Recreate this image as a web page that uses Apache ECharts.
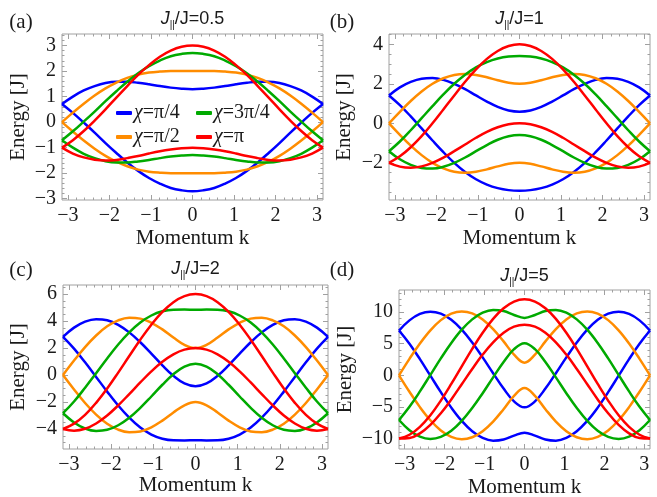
<!DOCTYPE html>
<html><head><meta charset="utf-8">
<script src="https://cdn.jsdelivr.net/npm/echarts@6/dist/echarts.min.js"></script>
<style>html,body{margin:0;padding:0;background:#fff}#c{width:657px;height:497px}</style>
</head><body><div id="c"></div>
<script>
// ---------- DATA ----------
const momentum = [-3.1416,-2.8798,-2.6180,-2.3562,-2.0944,-1.8326,-1.5708,-1.3090,-1.0472,-0.7854,-0.5236,-0.2618,0,0.2618,0.5236,0.7854,1.0472,1.3090,1.5708,1.8326,2.0944,2.3562,2.6180,2.8798,3.1416];
const xTicks = [-3,-2,-1,0,1,2,3];
const aYTicks = [-3,-2,-1,0,1,2,3];
const bYTicks = [-2,0,2,4];
const cYTicks = [-4,-2,0,2,4,6];
const dYTicks = [-10,-5,0,5,10];
const ratioLabels = ['0.5','1','2','5'];
const panelLetters = ['(a)','(b)','(c)','(d)'];
const chiNames = ['χ=π/4','χ=π/2','χ=3π/4','χ=π'];

// (a) J||/J = 0.5
const aBlueUp   = [0.71,1.00,1.24,1.41,1.53,1.58,1.58,1.54,1.48,1.41,1.35,1.31,1.29,1.31,1.35,1.41,1.48,1.54,1.58,1.58,1.53,1.41,1.24,1.00,0.71];
const aBlueLo   = [0.71,0.36,-0.02,-0.41,-0.82,-1.21,-1.58,-1.91,-2.19,-2.41,-2.58,-2.67,-2.71,-2.67,-2.58,-2.41,-2.19,-1.91,-1.58,-1.21,-0.82,-0.41,-0.02,0.36,0.71];
const aOrangeUp = [0,0.37,0.72,1.04,1.32,1.55,1.73,1.86,1.94,1.98,2.00,2.00,2.00,2.00,2.00,1.98,1.94,1.86,1.73,1.55,1.32,1.04,0.72,0.37,0];
const aOrangeLo = [0,-0.37,-0.72,-1.04,-1.32,-1.55,-1.73,-1.86,-1.94,-1.98,-2.00,-2.00,-2.00,-2.00,-2.00,-1.98,-1.94,-1.86,-1.73,-1.55,-1.32,-1.04,-0.72,-0.37,0];
const aGreenUp  = [-0.71,-0.36,0.02,0.41,0.82,1.21,1.58,1.91,2.19,2.41,2.58,2.67,2.71,2.67,2.58,2.41,2.19,1.91,1.58,1.21,0.82,0.41,0.02,-0.36,-0.71];
const aGreenLo  = [-0.71,-1.00,-1.24,-1.41,-1.53,-1.58,-1.58,-1.54,-1.48,-1.41,-1.35,-1.31,-1.29,-1.31,-1.35,-1.41,-1.48,-1.54,-1.58,-1.58,-1.53,-1.41,-1.24,-1.00,-0.71];
const aRedUp    = [-1.00,-0.71,-0.35,0.06,0.50,0.96,1.41,1.85,2.23,2.56,2.80,2.95,3.00,2.95,2.80,2.56,2.23,1.85,1.41,0.96,0.50,0.06,-0.35,-0.71,-1.00];
const aRedLo    = [-1.00,-1.23,-1.38,-1.47,-1.50,-1.48,-1.41,-1.33,-1.23,-1.14,-1.07,-1.02,-1.00,-1.02,-1.07,-1.14,-1.23,-1.33,-1.41,-1.48,-1.50,-1.47,-1.38,-1.23,-1.00];

// (b) J||/J = 1
const bBlueUp   = [1.41,1.82,2.10,2.26,2.29,2.20,2.00,1.73,1.41,1.10,0.83,0.65,0.59,0.65,0.83,1.10,1.41,1.73,2.00,2.20,2.29,2.26,2.10,1.82,1.41];
const bBlueLo   = [1.41,0.92,0.35,-0.26,-0.87,-1.46,-2.00,-2.46,-2.83,-3.10,-3.28,-3.38,-3.41,-3.38,-3.28,-3.10,-2.83,-2.46,-2.00,-1.46,-0.87,-0.26,0.35,0.92,1.41];
const bOrangeUp = [0,0.58,1.13,1.61,2.00,2.28,2.45,2.50,2.45,2.33,2.18,2.05,2.00,2.05,2.18,2.33,2.45,2.50,2.45,2.28,2.00,1.61,1.13,0.58,0];
const bOrangeLo = [0,-0.58,-1.13,-1.61,-2.00,-2.28,-2.45,-2.50,-2.45,-2.33,-2.18,-2.05,-2.00,-2.05,-2.18,-2.33,-2.45,-2.50,-2.45,-2.28,-2.00,-1.61,-1.13,-0.58,0];
const bGreenUp  = [-1.41,-0.92,-0.35,0.26,0.87,1.46,2.00,2.46,2.83,3.10,3.28,3.38,3.41,3.38,3.28,3.10,2.83,2.46,2.00,1.46,0.87,0.26,-0.35,-0.92,-1.41];
const bGreenLo  = [-1.41,-1.82,-2.10,-2.26,-2.29,-2.20,-2.00,-1.73,-1.41,-1.10,-0.83,-0.65,-0.59,-0.65,-0.83,-1.10,-1.41,-1.73,-2.00,-2.20,-2.29,-2.26,-2.10,-1.82,-1.41];
const bRedUp    = [-2.00,-1.67,-1.21,-0.65,0.00,0.70,1.41,2.10,2.73,3.26,3.66,3.91,4.00,3.91,3.66,3.26,2.73,2.10,1.41,0.70,0.00,-0.65,-1.21,-1.67,-2.00];
const bRedLo    = [-2.00,-2.19,-2.25,-2.18,-2.00,-1.74,-1.41,-1.07,-0.73,-0.43,-0.20,-0.05,0.00,-0.05,-0.20,-0.43,-0.73,-1.07,-1.41,-1.74,-2.00,-2.18,-2.25,-2.19,-2.00];

// (c) J||/J = 2
const cBlueUp   = [2.83,3.51,3.96,4.14,4.06,3.72,3.16,2.43,1.59,0.72,-0.06,-0.62,-0.83,-0.62,-0.06,0.72,1.59,2.43,3.16,3.72,4.06,4.14,3.96,3.51,2.83];
const cBlueLo   = [2.83,1.96,0.94,-0.14,-1.23,-2.26,-3.16,-3.89,-4.41,-4.72,-4.84,-4.85,-4.83,-4.85,-4.84,-4.72,-4.41,-3.89,-3.16,-2.26,-1.23,-0.14,0.94,1.96,2.83];
const cOrangeUp = [0,1.07,2.07,2.93,3.61,4.05,4.24,4.18,3.87,3.38,2.78,2.24,2.00,2.24,2.78,3.38,3.87,4.18,4.24,4.05,3.61,2.93,2.07,1.07,0];
const cOrangeLo = [0,-1.07,-2.07,-2.93,-3.61,-4.05,-4.24,-4.18,-3.87,-3.38,-2.78,-2.24,-2.00,-2.24,-2.78,-3.38,-3.87,-4.18,-4.24,-4.05,-3.61,-2.93,-2.07,-1.07,0];
const cGreenUp  = [-2.83,-1.96,-0.94,0.14,1.23,2.26,3.16,3.89,4.41,4.72,4.84,4.85,4.83,4.85,4.84,4.72,4.41,3.89,3.16,2.26,1.23,0.14,-0.94,-1.96,-2.83];
const cGreenLo  = [-2.83,-3.51,-3.96,-4.14,-4.06,-3.72,-3.16,-2.43,-1.59,-0.72,0.06,0.62,0.83,0.62,0.06,-0.72,-1.59,-2.43,-3.16,-3.72,-4.06,-4.14,-3.96,-3.51,-2.83];
const cRedUp    = [-4.00,-3.60,-2.95,-2.06,-1.00,0.18,1.41,2.62,3.73,4.68,5.40,5.85,6.00,5.85,5.40,4.68,3.73,2.62,1.41,0.18,-1.00,-2.06,-2.95,-3.60,-4.00];
const cRedLo    = [-4.00,-4.12,-3.98,-3.59,-3.00,-2.25,-1.41,-0.55,0.27,0.98,1.53,1.88,2.00,1.88,1.53,0.98,0.27,-0.55,-1.41,-2.25,-3.00,-3.59,-3.98,-4.12,-4.00];

// (d) J||/J = 5
const dBlueUp   = [7.07,8.68,9.70,10.06,9.74,8.77,7.21,5.18,2.83,0.33,-2.10,-4.13,-5.07,-4.13,-2.10,0.33,2.83,5.18,7.21,8.77,9.74,10.06,9.70,8.68,7.07];
const dBlueLo   = [7.07,4.98,2.55,-0.06,-2.67,-5.11,-7.21,-8.84,-9.90,-10.33,-10.15,-9.53,-9.07,-9.53,-10.15,-10.33,-9.90,-8.84,-7.21,-5.11,-2.67,-0.06,2.55,4.98,7.07];
const dOrangeUp = [0,2.60,5.03,7.11,8.72,9.74,10.10,9.79,8.83,7.31,5.36,3.26,2.00,3.26,5.36,7.31,8.83,9.79,10.10,9.74,8.72,7.11,5.03,2.60,0];
const dOrangeLo = [0,-2.60,-5.03,-7.11,-8.72,-9.74,-10.10,-9.79,-8.83,-7.31,-5.36,-3.26,-2.00,-3.26,-5.36,-7.31,-8.83,-9.79,-10.10,-9.74,-8.72,-7.11,-5.03,-2.60,0];
const dGreenUp  = [-7.07,-4.98,-2.55,0.06,2.67,5.11,7.21,8.84,9.90,10.33,10.15,9.53,9.07,9.53,10.15,10.33,9.90,8.84,7.21,5.11,2.67,0.06,-2.55,-4.98,-7.07];
const dGreenLo  = [-7.07,-8.68,-9.70,-10.06,-9.74,-8.77,-7.21,-5.18,-2.83,-0.33,2.10,4.13,5.07,4.13,2.10,-0.33,-2.83,-5.18,-7.21,-8.77,-9.74,-10.06,-9.70,-8.68,-7.07];
const dRedUp    = [-10.00,-9.40,-8.14,-6.31,-4.00,-1.37,1.41,4.18,6.73,8.92,10.59,11.64,12.00,11.64,10.59,8.92,6.73,4.18,1.41,-1.37,-4.00,-6.31,-8.14,-9.40,-10.00];
const dRedLo    = [-10.00,-9.92,-9.18,-7.84,-6.00,-3.81,-1.41,1.00,3.27,5.22,6.73,7.68,8.00,7.68,6.73,5.22,3.27,1.00,-1.41,-3.81,-6.00,-7.84,-9.18,-9.92,-10.00];

// ---------- LAYOUT / STYLE ----------
const SERIF = 'Liberation Serif';
const SANS = 'Liberation Sans';
const INK = '#1a1a1a';
const colors = ['#0000ff', '#ff8c00', '#00aa00', '#ff0000'];
const frameColor = '#a0a0a0';

const panels = [
  {left: 62,  top: 34,  width: 261, height: 166, ymin: -3.05, ymax: 3.45, yTicks: aYTicks, yMinorStep: 0.2,
   bands: [[aBlueUp, aBlueLo], [aOrangeUp, aOrangeLo], [aGreenUp, aGreenLo], [aRedUp, aRedLo]],
   titleY: 19, letter: [21, 22], eX: 18, mY: 238},
  {left: 389, top: 34,  width: 261, height: 166, ymin: -3.88, ymax: 4.52, yTicks: bYTicks, yMinorStep: 0.5,
   bands: [[bBlueUp, bBlueLo], [bOrangeUp, bOrangeLo], [bGreenUp, bGreenLo], [bRedUp, bRedLo]],
   titleY: 19, letter: [342, 22], eX: 344, mY: 238},
  {left: 63,  top: 285, width: 265, height: 164, ymin: -5.48, ymax: 6.67, yTicks: cYTicks, yMinorStep: 0.5,
   bands: [[cBlueUp, cBlueLo], [cOrangeUp, cOrangeLo], [cGreenUp, cGreenLo], [cRedUp, cRedLo]],
   titleY: 269, letter: [21, 270], eX: 18, mY: 485},
  {left: 399, top: 290, width: 251, height: 159, ymin: -11.65, ymax: 13.48, yTicks: dYTicks, yMinorStep: 1,
   bands: [[dBlueUp, dBlueLo], [dOrangeUp, dOrangeLo], [dGreenUp, dGreenLo], [dRedUp, dRedLo]],
   titleY: 276, letter: [342, 270], eX: 345, mY: 487}
];

const fmt = v => (v < 0 ? '\u2212' + (-v) : String(v));
function minorVals(lo, hi, step, majors) {
  const out = [];
  for (let n = Math.ceil(lo / step - 1e-9); n * step <= hi + 1e-9; n++) {
    const v = +(n * step).toFixed(4);
    if (v > lo && v < hi && !majors.some(m => Math.abs(m - v) < 1e-6)) out.push(v);
  }
  return out;
}
function makeAxis(gi, pos, min, max, vals, showLabel, len) {
  return {
    type: 'value', gridIndex: gi, position: pos, min: min, max: max,
    axisLine: {show: false, onZero: false},
    splitLine: {show: false}, minorTick: {show: false}, minorSplitLine: {show: false},
    axisTick: {show: true, inside: true, length: len, customValues: vals, lineStyle: {color: frameColor, width: 1}},
    axisLabel: {show: showLabel, customValues: vals, formatter: fmt, fontFamily: SERIF, fontSize: 20,
                color: INK, margin: 6}
  };
}

const grid = [], xAxis = [], yAxis = [], series = [], graphic = [];
panels.forEach((p, i) => {
  grid.push({left: p.left, top: p.top, width: p.width, height: p.height, show: true,
             borderColor: frameColor, borderWidth: 1, backgroundColor: 'transparent'});
  const xMinor = minorVals(-Math.PI, Math.PI, 0.2, xTicks);
  const yMinor = minorVals(p.ymin, p.ymax, p.yMinorStep, p.yTicks);
  xAxis.push(makeAxis(i, 'bottom', -Math.PI, Math.PI, xTicks, true, 5));
  xAxis.push(makeAxis(i, 'bottom', -Math.PI, Math.PI, xMinor, false, 2.5));
  xAxis.push(makeAxis(i, 'top', -Math.PI, Math.PI, xTicks, false, 5));
  xAxis.push(makeAxis(i, 'top', -Math.PI, Math.PI, xMinor, false, 2.5));
  yAxis.push(makeAxis(i, 'left', p.ymin, p.ymax, p.yTicks, true, 5));
  yAxis.push(makeAxis(i, 'left', p.ymin, p.ymax, yMinor, false, 2.5));
  yAxis.push(makeAxis(i, 'right', p.ymin, p.ymax, p.yTicks, false, 5));
  yAxis.push(makeAxis(i, 'right', p.ymin, p.ymax, yMinor, false, 2.5));

  p.bands.forEach((pair, c) => {
    pair.forEach(arr => {
      series.push({
        type: 'line', name: chiNames[c], xAxisIndex: 4 * i, yAxisIndex: 4 * i,
        data: momentum.map((k, j) => [k, arr[j]]),
        showSymbol: false, symbol: 'none', smooth: 0.4, clip: true,
        lineStyle: {color: colors[c], width: 2.5}, itemStyle: {color: colors[c]},
        emphasis: {disabled: true}, animation: false
      });
    });
  });

  const cx = p.left + p.width / 2, cy = p.top + p.height / 2;
  graphic.push({type: 'text', x: cx, y: p.titleY, style: {
    text: '{j|J}{s|||}{n|/J=' + ratioLabels[i] + '}', align: 'center', verticalAlign: 'middle', fill: INK,
    rich: {
      j: {fontFamily: SANS, fontSize: 18, fontStyle: 'italic', lineHeight: 22, verticalAlign: 'middle', fill: INK},
      s: {fontFamily: SANS, fontSize: 10, lineHeight: 10, verticalAlign: 'bottom', fill: INK},
      n: {fontFamily: SANS, fontSize: 18, lineHeight: 22, verticalAlign: 'middle', fill: INK}
    }}});
  graphic.push({type: 'text', x: p.letter[0], y: p.letter[1], style: {
    text: panelLetters[i], align: 'center', verticalAlign: 'middle', fontFamily: SERIF, fontSize: 21, fill: INK}});
  graphic.push({type: 'text', x: p.eX, y: cy, rotation: Math.PI / 2, style: {
    text: 'Energy [J]', align: 'center', verticalAlign: 'middle', fontFamily: SERIF, fontSize: 21, fill: INK}});
  graphic.push({type: 'text', x: cx, y: p.mY, style: {
    text: 'Momentum k', align: 'center', verticalAlign: 'middle', fontFamily: SERIF, fontSize: 21, fill: INK}});
});

// legend: swatches from the legend component, labels as serif text with italic chi
const legendSpots = [[chiNames[0], 116, 113], [chiNames[2], 196, 113], [chiNames[1], 116, 137], [chiNames[3], 196, 137]];
const legend = legendSpots.map(([nm, l, cyL]) => ({
  data: [nm], left: l, top: cyL - 2, orient: 'horizontal', icon: 'roundRect',
  itemWidth: 16, itemHeight: 4, itemGap: 0, padding: 0, selectedMode: false,
  formatter: () => '', textStyle: {fontSize: 1, lineHeight: 1}
}));
legendSpots.forEach(([nm, l, cyL]) => {
  graphic.push({type: 'text', x: l + 18, y: cyL, style: {
    text: '{i|χ}{t|' + nm.slice(1) + '}', align: 'left', verticalAlign: 'middle', fill: INK,
    rich: {i: {fontFamily: SERIF, fontSize: 20, fontStyle: 'italic', fill: INK},
           t: {fontFamily: SERIF, fontSize: 20, fill: INK}}}});
});

const chart = echarts.init(document.getElementById('c'), null, {renderer: 'canvas'});
chart.setOption({
  animation: false, backgroundColor: '#ffffff',
  grid, xAxis, yAxis, series, legend, graphic
});
</script>
</body></html>
